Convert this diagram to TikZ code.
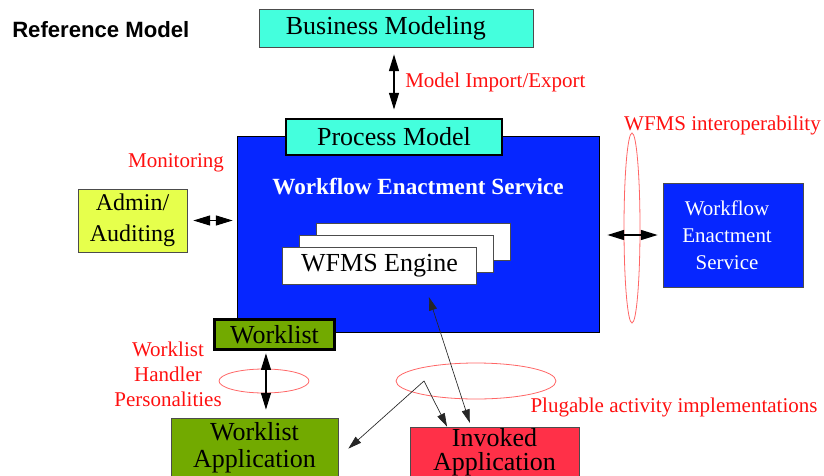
\documentclass[tikz,border=0pt]{standalone}
\usepackage{fontspec}
\setmainfont{LiberationSerif-Regular.ttf}[BoldFont=LiberationSerif-Bold.ttf]
\newfontfamily\headfont{Liberation Sans}
\usetikzlibrary{arrows.meta}

\definecolor{aqua}{HTML}{44FFDD}
\definecolor{deepblue}{HTML}{0626FF}
\definecolor{lime}{HTML}{E6FF4C}
\definecolor{olive}{HTML}{72AA00}
\definecolor{rose}{HTML}{FF3048}
\definecolor{notered}{HTML}{FF1010}

\begin{document}
\begin{tikzpicture}[
    x=0.75pt, y=-0.75pt,
    box/.style={draw=black!70, line width=0.6pt, inner sep=0pt, align=center,
        font=\rmfamily\fontsize{19.5pt}{20pt}\selectfont},
    heavybox/.style={box, draw=black, line width=2.2pt},
    card/.style={box, fill=white, minimum width=146pt, minimum height=27.75pt},
    note/.style={text=notered, align=center, inner sep=0pt,
        font=\rmfamily\fontsize{15.75pt}{18.75pt}\selectfont},
    ring/.style={draw=red!60, line width=0.6pt},
    tip/.tip={Triangle[length=12.5pt,width=7.5pt]},
    smalltip/.tip={Triangle[length=10pt,width=6pt]},
    bigarrow/.style={tip-tip, draw=black, line width=0.8pt},
    thinarrow/.style={smalltip-smalltip, draw=black!85, line width=0.5pt}
]
\useasboundingbox (0,0) rectangle (824,475);

% Title
\node[anchor=west, inner sep=0pt, font=\headfont\bfseries\fontsize{16.6pt}{19pt}\selectfont]
    (title) at (12,30) {Reference Model};

% Business modeling on top
\node[box, fill=aqua, minimum width=206pt, minimum height=28.5pt] (bm) at (396.5,28)
    {\hspace*{-16pt}Business Modeling};

% Enactment service with process model tab
\node[box, draw=black, fill=deepblue, minimum width=271.5pt, minimum height=147pt]
    (wes) at (418,234) {};
\node[heavybox, fill=aqua, minimum width=162pt, minimum height=27pt] (pm) at (394,137)
    {Process Model};
\node[text=white, inner sep=0pt, font=\rmfamily\bfseries\fontsize{17.4pt}{20pt}\selectfont]
    (westitle) at (418,187) {Workflow Enactment Service};

% Stacked engines
\node[card] (eng3) at (413.5,241.5) {};
\node[card] (eng2) at (396.5,253.5) {};
\node[card] (eng) at (379.5,265.5) {WFMS Engine};

% Admin / auditing
\node[box, fill=lime, minimum width=81.75pt, minimum height=47.25pt,
    font=\rmfamily\fontsize{18pt}{23pt}\selectfont] (adm) at (132.5,220.5)
    {\raisebox{-3pt}{Admin/}\\\raisebox{-3pt}{Auditing}};
\node[note] (mon) at (176,163) {Monitoring};

% Second enactment service
\node[box, fill=deepblue, text=white, minimum width=105pt, minimum height=78pt,
    font=\rmfamily\fontsize{15.7pt}{20.3pt}\selectfont] (rwes) at (733,235)
    {\hspace*{-9pt}Workflow\\\hspace*{-9pt}Enactment\\\hspace*{-9pt}Service};
\node[note] (interop) at (722.5,125) {WFMS interoperability};

% Worklist
\node[heavybox, fill=olive, minimum width=90.5pt, minimum height=23pt] (wl) at (274.5,334.5)
    {Worklist};
\node[box, fill=olive, minimum width=125.25pt, minimum height=44.25pt] (wlapp) at (254.5,447.5)
    {Worklist\\Application};
\node[note] (handler) at (168,374) {Worklist\\Handler\\Personalities};

% Invoked application
\node[box, fill=rose, minimum width=126.75pt, minimum height=38.25pt,
    font=\rmfamily\fontsize{19.5pt}{18pt}\selectfont] (inv) at (494.5,452.5) {Invoked\\Application};
\node[note] (plug) at (674,407) {Plugable activity implementations};
\node[note, anchor=west] (imp) at (405,82) {Model Import/Export};

% Interface rings
\draw[ring] (632,228) ellipse [x radius=8, y radius=95];
\draw[ring] (264,381) ellipse [x radius=45, y radius=12];
\draw[ring] (476,381) ellipse [x radius=80, y radius=18];

% Connectors
\coordinate (kink) at (424,381);
\draw[bigarrow, shorten <=6pt, shorten >=5.25pt] (pm.north) -- (pm.north |- bm.south);
\draw[bigarrow, shorten <=4.5pt, shorten >=3pt] (adm.east) -- (adm.east -| wes.west);
\draw[bigarrow, shorten <=3.75pt, shorten >=6pt] (rwes.west) -- (rwes.west -| wes.east);
\draw[bigarrow, shorten <=1.5pt, shorten >=6pt] ([xshift=-6.4pt]wl.south)
    -- ([xshift=-6.4pt]wl.south |- wlapp.north);
\draw[thinarrow, shorten <=10pt, shorten >=3pt] ([xshift=34pt]eng.south)
    -- ([xshift=-17.6pt]inv.north);
\draw[thinarrow, shorten <=10pt] ([yshift=-7.5pt]wlapp.east) -- (kink)
    -- ([xshift=-35.6pt]inv.north);

\end{tikzpicture}
\end{document}
